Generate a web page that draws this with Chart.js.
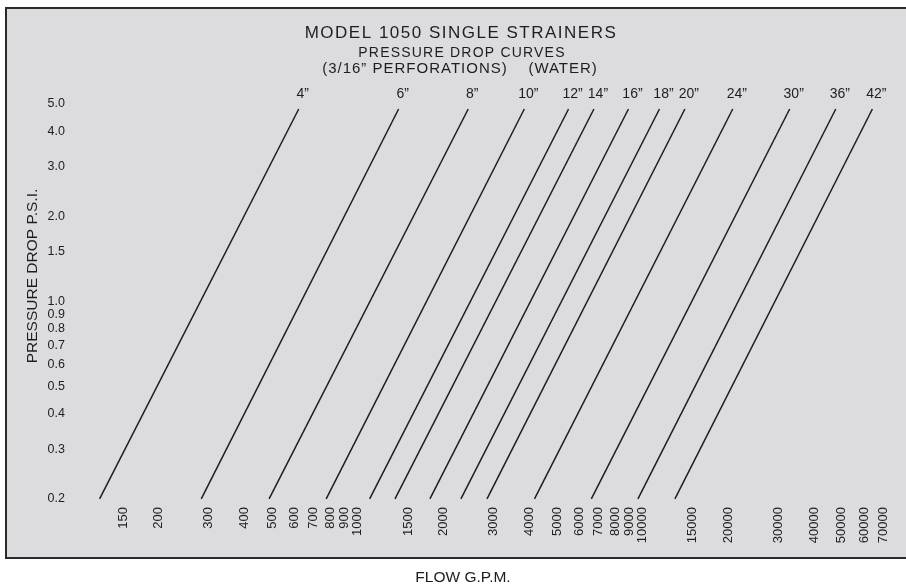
<!DOCTYPE html>
<html>
<head>
<meta charset="utf-8">
<script src="https://cdn.jsdelivr.net/npm/chart.js@4"></script>
<style>
html, body { margin: 0; padding: 0; background: #fff; }
canvas { display: block; }
</style>
</head>
<body>
<canvas id="myChart" width="906" height="588"></canvas>
<script>
// strainer sizes and the flow (GPM) each curve reads at the bottom and top of the grid
const sizes = ['4\u201D', '6\u201D', '8\u201D', '10\u201D', '12\u201D', '14\u201D', '16\u201D', '18\u201D', '20\u201D', '24\u201D', '30\u201D', '36\u201D', '42\u201D'];
const flowAtLow = [124, 282, 488, 774, 1100, 1350, 1790, 2300, 2840, 4170, 6600, 9620, 12970];
const flowAtHigh = [620, 1390, 2440, 3840, 5490, 6740, 8910, 11450, 14060, 20700, 32800, 47600, 64000];
const psiRange = [0.2, 4.8];

const psiTicks = [0.2, 0.3, 0.4, 0.5, 0.6, 0.7, 0.8, 0.9, 1.0, 1.5, 2.0, 3.0, 4.0, 5.0];
const flowTicks = [150, 200, 300, 400, 500, 600, 700, 800, 900, 1000, 1500, 2000, 3000, 4000, 5000,
  6000, 7000, 8000, 9000, 10000, 15000, 20000, 30000, 40000, 50000, 60000, 70000];

const titleLines = ['MODEL 1050 SINGLE STRAINERS', 'PRESSURE DROP CURVES', '(3/16\u201D PERFORATIONS)    (WATER)'];

const SANS = '"Liberation Sans", Arial, sans-serif';
const NARROW = '"Liberation Sans Narrow", "Liberation Sans", Arial, sans-serif';
const INK = '#1e1e1e';

const ctx = document.getElementById('myChart');

const frame = {
  id: 'frame',
  beforeDraw(chart) {
    const c = chart.ctx;
    c.save();
    c.fillStyle = '#fff';
    c.fillRect(0, 0, chart.width, chart.height);
    c.fillStyle = '#dcdcde';
    c.fillRect(6, 7, 900, 551);
    c.strokeStyle = '#2a2a2a';
    c.lineWidth = 2;
    c.beginPath();
    c.moveTo(906, 8);
    c.lineTo(6, 8);
    c.lineTo(6, 558);
    c.lineTo(906, 558);
    c.stroke();
    c.restore();
  }
};

const texts = {
  id: 'texts',
  afterDraw(chart) {
    const c = chart.ctx;
    const xs = chart.scales.x, ys = chart.scales.y;
    c.save();
    c.fillStyle = INK;
    c.textAlign = 'center';
    c.textBaseline = 'middle';

    c.font = '17px ' + SANS;
    c.letterSpacing = '1.5px';
    c.fillText(titleLines[0], 461, 33);
    c.font = '14px ' + SANS;
    c.letterSpacing = '1.2px';
    c.fillText(titleLines[1], 462, 53);
    c.font = '15px ' + SANS;
    c.letterSpacing = '1px';
    c.fillText(titleLines[2], 460, 69);
    c.letterSpacing = '0px';

    // size label over the top end of each curve
    c.font = '14px ' + NARROW;
    sizes.forEach((s, i) => {
      const px = xs.getPixelForValue(flowAtHigh[i]);
      const py = ys.getPixelForValue(psiRange[1]);
      c.fillText(s, px + 4, py - 15);
    });

    c.font = '15.5px ' + SANS;
    c.fillText('FLOW G.P.M.', 463, 578);
    c.translate(33, 276);
    c.rotate(-Math.PI / 2);
    c.fillText('PRESSURE DROP P.S.I.', 0, 0);
    c.restore();
  }
};

new Chart(ctx, {
  type: 'line',
  data: {
    datasets: sizes.map((s, i) => ({
      label: s,
      data: [{ x: flowAtLow[i], y: psiRange[0] }, { x: flowAtHigh[i], y: psiRange[1] }],
      borderColor: INK,
      borderWidth: 1.5,
      pointRadius: 0,
      fill: false
    }))
  },
  options: {
    responsive: false,
    animation: false,
    layout: { padding: { top: 104, right: 6, left: 0, bottom: 0 } },
    plugins: {
      legend: { display: false },
      tooltip: { enabled: false }
    },
    scales: {
      x: {
        type: 'logarithmic',
        min: 100,
        max: 80000,
        afterBuildTicks: s => { s.ticks = flowTicks.map(v => ({ value: v })); },
        afterFit: s => { s.height = 85; },
        grid: { display: false, drawTicks: false },
        border: { display: false },
        ticks: {
          autoSkip: false,
          minRotation: 90,
          maxRotation: 90,
          padding: 4,
          color: INK,
          font: { family: SANS, size: 13 },
          callback: v => String(v)
        }
      },
      y: {
        type: 'logarithmic',
        min: 0.1935,
        max: 5,
        afterBuildTicks: s => { s.ticks = psiTicks.map(v => ({ value: v })); },
        afterFit: s => { s.width = 73; },
        grid: { display: false, drawTicks: false },
        border: { display: false },
        ticks: {
          autoSkip: false,
          padding: 8,
          color: INK,
          font: { family: SANS, size: 12.5 },
          callback: v => Number(v).toFixed(1)
        }
      }
    }
  },
  plugins: [frame, texts]
});
</script>
</body>
</html>
